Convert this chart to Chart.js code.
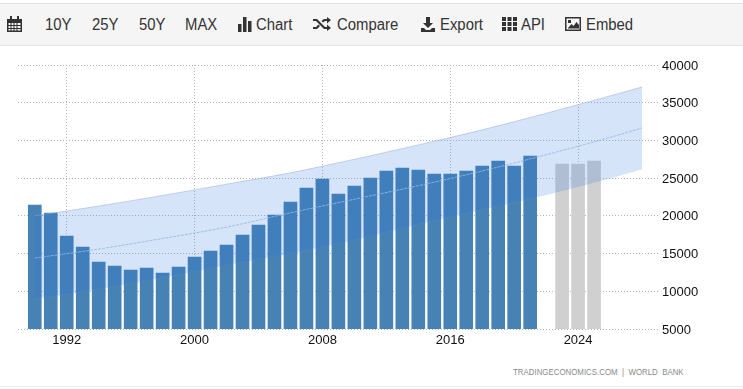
<!DOCTYPE html>
<html>
<head>
<meta charset="utf-8">
<script src="https://cdn.jsdelivr.net/npm/chart.js@4"></script>
<style>
  html, body { margin: 0; padding: 0; background: #fff; width: 743px; height: 389px; overflow: hidden; }
  body { position: relative; font-family: "Liberation Sans", Arial, sans-serif; }
  #bar { position: absolute; left: 0; top: 3px; width: 743px; height: 41px; background: #f5f5f5;
         border-top: 1px solid #e4e4e4; border-bottom: 1px solid #e4e4e4; }
  #bar span { position: absolute; top: 12px; font-size: 16px; line-height: 17px; color: #333; transform: scaleX(0.93); transform-origin: left center; }
  #bar svg { position: absolute; fill: #333; }
  #wrap { position: absolute; left: 0; top: 46px; width: 743px; height: 320px; }
  #source { position: absolute; left: 513px; top: 367px; font-size: 8.6px; line-height: 10px; color: #8a8a8a; white-space: pre; transform: scaleX(0.917); transform-origin: left center; }
  #foot { position: absolute; left: 0; top: 386px; width: 743px; height: 1px; background: #ececec; }
</style>
</head>
<body>
<div id="bar">
  <svg style="left:7px;top:12px" width="15" height="16" viewBox="0 0 15 16"><path d="M0 3h3V0h2v3h5V0h2v3h3v13H0z"/><path fill="#f5f5f5" d="M1.500 7h2v2h-2zM4.500 7h2v2h-2zM7.500 7h2v2h-2zM10.500 7h3v2h-3zM1.500 10h2v2h-2zM4.500 10h2v2h-2zM7.500 10h2v2h-2zM10.500 10h3v2h-3zM1.500 13h2v1.500h-2zM4.500 13h2v1.500h-2zM7.500 13h2v1.500h-2zM10.500 13h3v1.500h-3z"/></svg>
  <span style="left:45px">10Y</span>
  <span style="left:92px">25Y</span>
  <span style="left:139px">50Y</span>
  <span style="left:185px">MAX</span>
  <svg style="left:238px;top:13px" width="14" height="15" viewBox="0 0 14 15"><path d="M0 7h3.500v8H0zM5 0h3.500v15H5zM10 4h3.500v11H10z"/></svg>
  <span style="left:256px">Chart</span>
  <svg style="left:313px;top:13px" width="18" height="14" viewBox="0 0 18 14"><path d="M0 2h4l8 8h2V7.500l4 3.500-4 3v-2h-3L3 4H0zM0 10h3l2.500-2.500L7 9l-3 3H0zM11 2h3V0l4 3-4 3.500V4h-2L10 5.500 8.500 4z"/></svg>
  <span style="left:337px">Compare</span>
  <svg style="left:421px;top:13px" width="14" height="15" viewBox="0 0 14 15"><path d="M5 0h4v6h3l-5 5-5-5h3zM0 11h3l2 2h4l2-2h3v4H0z"/></svg>
  <span style="left:440px">Export</span>
  <svg style="left:502px;top:13px" width="15" height="14" viewBox="0 0 15 14"><path d="M0 0h4v4H0zM5.500 0h4v4h-4zM11 0h4v4h-4zM0 5h4v4H0zM5.500 5h4v4h-4zM11 5h4v4h-4zM0 10h4v4H0zM5.500 10h4v4h-4zM11 10h4v4h-4z"/></svg>
  <span style="left:521px">API</span>
  <svg style="left:565px;top:13px" width="16" height="14" viewBox="0 0 16 14"><path d="M0 0h16v14H0z"/><path fill="#f5f5f5" d="M1.500 1.500h13v11h-13z"/><path d="M3 11l3.500-4 2 2 3-4L14 8v3.500H3zM3 3h3v3H3z"/></svg>
  <span style="left:586px">Embed</span>
</div>
<div id="wrap"><canvas id="chart_gdpRange"></canvas></div>
<div id="source">TRADINGECONOMICS.COM  |  WORLD  BANK</div>
<div id="foot"></div>
<script>
var actualYears = [1990, 1991, 1992, 1993, 1994, 1995, 1996, 1997, 1998, 1999, 2000, 2001, 2002, 2003, 2004, 2005,
                   2006, 2007, 2008, 2009, 2010, 2011, 2012, 2013, 2014, 2015, 2016, 2017, 2018, 2019, 2020, 2021];
var actualValues = [21440, 20380, 17330, 15870, 13880, 13350, 12820, 13090, 12420, 13220, 14550, 15340, 16140, 17460, 18790, 20110,
                    21840, 23690, 24890, 22900, 23960, 25020, 25950, 26340, 26080, 25550, 25550, 25950, 26600, 27270, 26610, 27930];
var forecastYears = [2023, 2024, 2025];
var forecastValues = [26870, 26870, 27270];
var bandYears = [1990, 1994, 1998, 2002, 2006, 2010, 2014, 2018, 2022, 2026, 2028];
var bandUpper = [20000, 21300, 22700, 24200, 25700, 27500, 29400, 31400, 33600, 35900, 37080];
var bandMiddle = [14400, 15600, 17000, 18500, 20400, 22200, 24000, 25950, 28100, 30400, 31650];
var bandLower = [9000, 10300, 11800, 13500, 15000, 16800, 18900, 20800, 22800, 25000, 26210];
var xTicks = [1992, 2000, 2008, 2016, 2024];
var yTicks = [5000, 10000, 15000, 20000, 25000, 30000, 35000, 40000];

var axisFont = { family: '"Liberation Sans Narrow", "Liberation Sans", Arial, sans-serif', size: 13 };

function points(xs, ys) {
  return xs.map(function(x, i) { return { x: x, y: ys[i] }; });
}

var chart_gdpRange = new Chart(document.getElementById('chart_gdpRange'), {
  data: {
    datasets: [
      {
        type: 'line',
        label: 'Upper',
        data: points(bandYears, bandUpper),
        borderColor: 'rgba(150,170,210,0.5)',
        borderWidth: 1,
        backgroundColor: 'rgba(41,118,225,0.195)',
        pointRadius: 0,
        cubicInterpolationMode: 'monotone',
        fill: '+2',
        order: 0
      },
      {
        type: 'line',
        label: 'Trend',
        data: points(bandYears, bandMiddle),
        borderColor: 'rgba(180,200,232,0.85)',
        borderWidth: 1,
        borderDash: [3, 1],
        pointRadius: 0,
        cubicInterpolationMode: 'monotone',
        fill: false,
        order: 0
      },
      {
        type: 'line',
        label: 'Lower',
        data: points(bandYears, bandLower),
        borderColor: 'rgba(150,175,215,0.12)',
        borderWidth: 1,
        pointRadius: 0,
        cubicInterpolationMode: 'monotone',
        fill: false,
        order: 0
      },
      {
        type: 'bar',
        label: 'Actual',
        data: points(actualYears, actualValues),
        backgroundColor: '#4682b4',
        barThickness: 13,
        grouped: false,
        order: 1
      },
      {
        type: 'bar',
        label: 'Forecast',
        data: points(forecastYears, forecastValues),
        backgroundColor: '#d0d0d0',
        barThickness: 13,
        grouped: false,
        order: 1
      }
    ]
  },
  options: {
    animation: false,
    responsive: true,
    maintainAspectRatio: false,
    layout: { padding: { left: 18, right: 0, top: 19, bottom: 0 } },
    plugins: {
      legend: { display: false },
      tooltip: { enabled: false }
    },
    scales: {
      x: {
        type: 'linear',
        offset: false,
        min: 1988.95,
        max: 2029,
        afterFit: function(scale) { scale.height = 37; },
        afterBuildTicks: function(scale) {
          scale.ticks = xTicks.map(function(v) { return { value: v }; });
        },
        border: { display: false, dash: [1, 2] },
        grid: { offset: false, color: '#b5b5b5', lineWidth: 1, tickLength: 0 },
        ticks: {
          padding: 4,
          maxRotation: 0,
          color: '#111',
          font: axisFont,
          callback: function(value) { return String(value); }
        }
      },
      y: {
        position: 'right',
        min: 5000,
        max: 40000,
        afterFit: function(scale) { scale.width = 85; },
        afterBuildTicks: function(scale) {
          scale.ticks = yTicks.map(function(v) { return { value: v }; });
        },
        border: { display: false, dash: [1, 2] },
        grid: { color: '#b5b5b5', lineWidth: 1, tickLength: 0 },
        ticks: {
          padding: 4,
          labelOffset: 1,
          color: '#111',
          font: axisFont,
          callback: function(value) { return String(value); }
        }
      }
    }
  }
});
</script>
</body>
</html>
